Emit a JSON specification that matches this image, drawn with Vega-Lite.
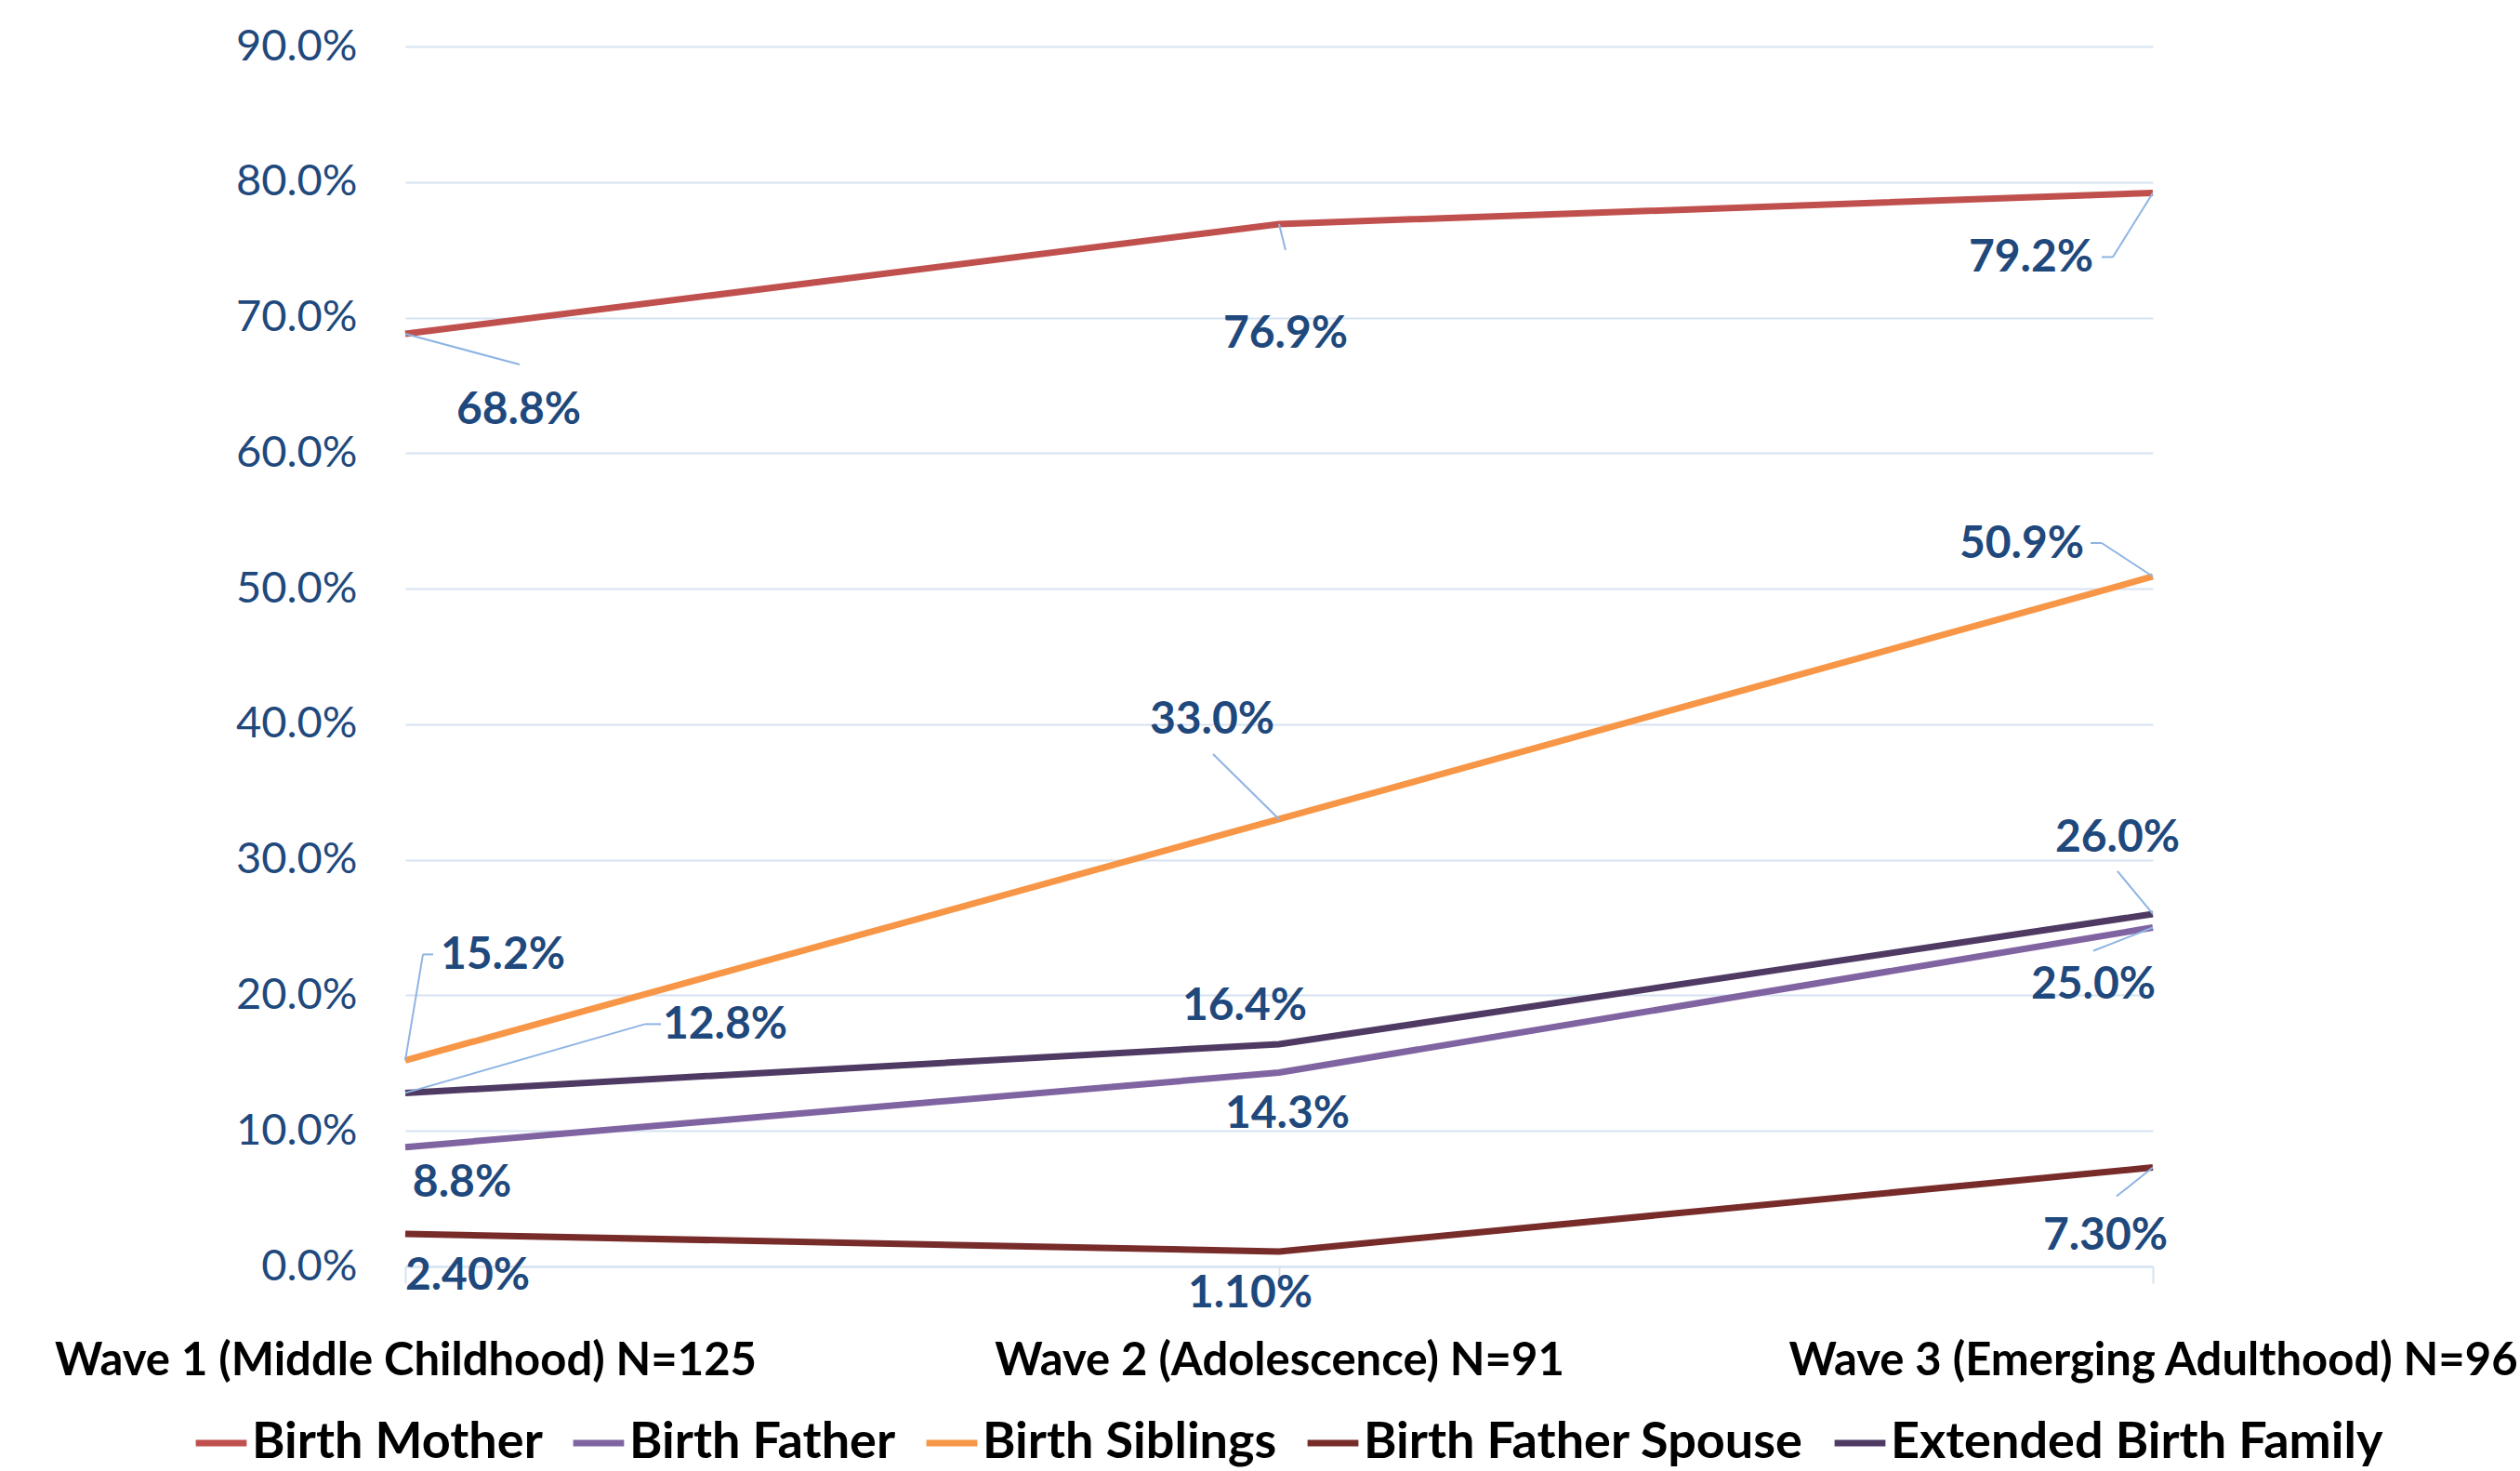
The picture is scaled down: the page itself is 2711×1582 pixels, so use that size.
{
  "$schema": "https://vega.github.io/schema/vega-lite/v6.json",
  "autosize": {"type": "none"},
  "width": 1880,
  "height": 1312,
  "padding": {"left": 436, "top": 50, "right": 395, "bottom": 220},
  "background": "white",
  "config": {
    "view": {"stroke": null},
    "font": "Lato"
  },
  "data": {"values": [
    {"id": "M1", "series": "Birth Mother", "wave": "Wave 1 (Middle Childhood) N=125", "value": 68.8, "label": "68.8%"},
    {"id": "M2", "series": "Birth Mother", "wave": "Wave 2 (Adolescence) N=91", "value": 76.9, "label": "76.9%"},
    {"id": "M3", "series": "Birth Mother", "wave": "Wave 3 (Emerging Adulthood) N=96", "value": 79.2, "label": "79.2%"},
    {"id": "F1", "series": "Birth Father", "wave": "Wave 1 (Middle Childhood) N=125", "value": 8.8, "label": "8.8%"},
    {"id": "F2", "series": "Birth Father", "wave": "Wave 2 (Adolescence) N=91", "value": 14.3, "label": "14.3%"},
    {"id": "F3", "series": "Birth Father", "wave": "Wave 3 (Emerging Adulthood) N=96", "value": 25.0, "label": "25.0%"},
    {"id": "S1", "series": "Birth Siblings", "wave": "Wave 1 (Middle Childhood) N=125", "value": 15.2, "label": "15.2%"},
    {"id": "S2", "series": "Birth Siblings", "wave": "Wave 2 (Adolescence) N=91", "value": 33.0, "label": "33.0%"},
    {"id": "S3", "series": "Birth Siblings", "wave": "Wave 3 (Emerging Adulthood) N=96", "value": 50.9, "label": "50.9%"},
    {"id": "P1", "series": "Birth Father Spouse", "wave": "Wave 1 (Middle Childhood) N=125", "value": 2.4, "label": "2.40%"},
    {"id": "P2", "series": "Birth Father Spouse", "wave": "Wave 2 (Adolescence) N=91", "value": 1.1, "label": "1.10%"},
    {"id": "P3", "series": "Birth Father Spouse", "wave": "Wave 3 (Emerging Adulthood) N=96", "value": 7.3, "label": "7.30%"},
    {"id": "E1", "series": "Extended Birth Family", "wave": "Wave 1 (Middle Childhood) N=125", "value": 12.8, "label": "12.8%"},
    {"id": "E2", "series": "Extended Birth Family", "wave": "Wave 2 (Adolescence) N=91", "value": 16.4, "label": "16.4%"},
    {"id": "E3", "series": "Extended Birth Family", "wave": "Wave 3 (Emerging Adulthood) N=96", "value": 26.0, "label": "26.0%"}
  ]},
  "encoding": {
    "x": {
      "field": "wave", "type": "ordinal",
      "sort": ["Wave 1 (Middle Childhood) N=125", "Wave 2 (Adolescence) N=91", "Wave 3 (Emerging Adulthood) N=96"],
      "scale": {"type": "point", "padding": 0},
      "axis": {
        "title": null, "labelAngle": 0, "grid": false,
        "domainColor": "#D6E2F1", "domainWidth": 2,
        "tickColor": "#D6E2F1", "tickWidth": 2, "tickSize": 18,
        "labelFont": "Lato", "labelFontWeight": "bold", "labelFontSize": 49,
        "labelColor": "#000000", "labelPadding": 59, "labelOverlap": false, "labelFlush": false, "labelLimit": 3000
      }
    },
    "y": {
      "field": "value", "type": "quantitative",
      "scale": {"domain": [0, 90], "nice": false},
      "axis": {
        "title": null, "values": [0, 10, 20, 30, 40, 50, 60, 70, 80, 90],
        "labelExpr": "format(datum.value, '.1f') + '%'",
        "domain": false, "ticks": false,
        "grid": true, "gridColor": "#D6E2F1", "gridWidth": 2,
        "labelFont": "Lato", "labelFontSize": 47, "labelColor": "#1F497D", "labelPadding": 52
      }
    }
  },
  "layer": [
    {
      "mark": {"type": "line", "strokeWidth": 7},
      "encoding": {
        "color": {
          "field": "series", "type": "nominal",
          "scale": {
            "domain": ["Birth Mother", "Birth Father", "Birth Siblings", "Birth Father Spouse", "Extended Birth Family"],
            "range": ["#C0504D", "#8064A2", "#F79646", "#772C2A", "#4F3A64"]
          },
          "legend": {
            "title": null, "orient": "none", "direction": "horizontal",
            "legendX": -229, "legendY": 1471,
            "symbolType": "stroke", "symbolSize": 3000, "symbolStrokeWidth": 7,
            "labelFont": "Lato", "labelFontWeight": "bold", "labelFontSize": 54, "labelColor": "#000000",
            "labelOffset": 2, "columnPadding": 18, "labelLimit": 1000
          }
        }
      }
    },
    {"transform": [{"filter": "datum.id=='M1'"}], "mark": {"type": "rule", "color": "#8EB4E3", "strokeWidth": 2, "x2Offset": 123, "y2Offset": 33}, "encoding": {"x2": {"field": "wave"}, "y2": {"field": "value"}}},
    {"transform": [{"filter": "datum.id=='M2'"}], "mark": {"type": "rule", "color": "#8EB4E3", "strokeWidth": 2, "x2Offset": 7, "y2Offset": 28}, "encoding": {"x2": {"field": "wave"}, "y2": {"field": "value"}}},
    {"transform": [{"filter": "datum.id=='M3'"}], "mark": {"type": "rule", "color": "#8EB4E3", "strokeWidth": 2, "x2Offset": -43, "y2Offset": 69}, "encoding": {"x2": {"field": "wave"}, "y2": {"field": "value"}}},
    {"transform": [{"filter": "datum.id=='M3'"}], "mark": {"type": "rule", "color": "#8EB4E3", "strokeWidth": 2, "xOffset": -43, "yOffset": 69, "x2Offset": -55, "y2Offset": 69}, "encoding": {"x2": {"field": "wave"}, "y2": {"field": "value"}}},
    {"transform": [{"filter": "datum.id=='S1'"}], "mark": {"type": "rule", "color": "#8EB4E3", "strokeWidth": 2, "x2Offset": 19, "y2Offset": -114}, "encoding": {"x2": {"field": "wave"}, "y2": {"field": "value"}}},
    {"transform": [{"filter": "datum.id=='S1'"}], "mark": {"type": "rule", "color": "#8EB4E3", "strokeWidth": 2, "xOffset": 19, "yOffset": -114, "x2Offset": 30, "y2Offset": -114}, "encoding": {"x2": {"field": "wave"}, "y2": {"field": "value"}}},
    {"transform": [{"filter": "datum.id=='S2'"}], "mark": {"type": "rule", "color": "#8EB4E3", "strokeWidth": 2, "x2Offset": -71, "y2Offset": -70}, "encoding": {"x2": {"field": "wave"}, "y2": {"field": "value"}}},
    {"transform": [{"filter": "datum.id=='S3'"}], "mark": {"type": "rule", "color": "#8EB4E3", "strokeWidth": 2, "x2Offset": -55, "y2Offset": -36}, "encoding": {"x2": {"field": "wave"}, "y2": {"field": "value"}}},
    {"transform": [{"filter": "datum.id=='S3'"}], "mark": {"type": "rule", "color": "#8EB4E3", "strokeWidth": 2, "xOffset": -55, "yOffset": -36, "x2Offset": -67, "y2Offset": -36}, "encoding": {"x2": {"field": "wave"}, "y2": {"field": "value"}}},
    {"transform": [{"filter": "datum.id=='E1'"}], "mark": {"type": "rule", "color": "#8EB4E3", "strokeWidth": 2, "x2Offset": 258, "y2Offset": -74}, "encoding": {"x2": {"field": "wave"}, "y2": {"field": "value"}}},
    {"transform": [{"filter": "datum.id=='E1'"}], "mark": {"type": "rule", "color": "#8EB4E3", "strokeWidth": 2, "xOffset": 258, "yOffset": -74, "x2Offset": 275, "y2Offset": -74}, "encoding": {"x2": {"field": "wave"}, "y2": {"field": "value"}}},
    {"transform": [{"filter": "datum.id=='E3'"}], "mark": {"type": "rule", "color": "#8EB4E3", "strokeWidth": 2, "x2Offset": -38, "y2Offset": -46}, "encoding": {"x2": {"field": "wave"}, "y2": {"field": "value"}}},
    {"transform": [{"filter": "datum.id=='F3'"}], "mark": {"type": "rule", "color": "#8EB4E3", "strokeWidth": 2, "x2Offset": -64, "y2Offset": 25}, "encoding": {"x2": {"field": "wave"}, "y2": {"field": "value"}}},
    {"transform": [{"filter": "datum.id=='P3'"}], "mark": {"type": "rule", "color": "#8EB4E3", "strokeWidth": 2, "x2Offset": -39, "y2Offset": 31}, "encoding": {"x2": {"field": "wave"}, "y2": {"field": "value"}}},
    {"transform": [{"filter": "datum.id=='M1'"}], "mark": {"type": "text", "font": "Lato", "fontWeight": "bold", "fontSize": 48, "color": "#1F497D", "align": "center", "baseline": "middle", "dx": 122, "dy": 83}, "encoding": {"text": {"field": "label"}}},
    {"transform": [{"filter": "datum.id=='M2'"}], "mark": {"type": "text", "font": "Lato", "fontWeight": "bold", "fontSize": 48, "color": "#1F497D", "align": "center", "baseline": "middle", "dx": 7, "dy": 119}, "encoding": {"text": {"field": "label"}}},
    {"transform": [{"filter": "datum.id=='M3'"}], "mark": {"type": "text", "font": "Lato", "fontWeight": "bold", "fontSize": 48, "color": "#1F497D", "align": "center", "baseline": "middle", "dx": -131, "dy": 71}, "encoding": {"text": {"field": "label"}}},
    {"transform": [{"filter": "datum.id=='S1'"}], "mark": {"type": "text", "font": "Lato", "fontWeight": "bold", "fontSize": 48, "color": "#1F497D", "align": "center", "baseline": "middle", "dx": 105, "dy": -112}, "encoding": {"text": {"field": "label"}}},
    {"transform": [{"filter": "datum.id=='S2'"}], "mark": {"type": "text", "font": "Lato", "fontWeight": "bold", "fontSize": 48, "color": "#1F497D", "align": "center", "baseline": "middle", "dx": -72, "dy": -106}, "encoding": {"text": {"field": "label"}}},
    {"transform": [{"filter": "datum.id=='S3'"}], "mark": {"type": "text", "font": "Lato", "fontWeight": "bold", "fontSize": 48, "color": "#1F497D", "align": "center", "baseline": "middle", "dx": -141, "dy": -34}, "encoding": {"text": {"field": "label"}}},
    {"transform": [{"filter": "datum.id=='E1'"}], "mark": {"type": "text", "font": "Lato", "fontWeight": "bold", "fontSize": 48, "color": "#1F497D", "align": "center", "baseline": "middle", "dx": 344, "dy": -72}, "encoding": {"text": {"field": "label"}}},
    {"transform": [{"filter": "datum.id=='E2'"}], "mark": {"type": "text", "font": "Lato", "fontWeight": "bold", "fontSize": 48, "color": "#1F497D", "align": "center", "baseline": "middle", "dx": -37, "dy": -40}, "encoding": {"text": {"field": "label"}}},
    {"transform": [{"filter": "datum.id=='E3'"}], "mark": {"type": "text", "font": "Lato", "fontWeight": "bold", "fontSize": 48, "color": "#1F497D", "align": "center", "baseline": "middle", "dx": -38, "dy": -81}, "encoding": {"text": {"field": "label"}}},
    {"transform": [{"filter": "datum.id=='F1'"}], "mark": {"type": "text", "font": "Lato", "fontWeight": "bold", "fontSize": 48, "color": "#1F497D", "align": "center", "baseline": "middle", "dx": 61, "dy": 39}, "encoding": {"text": {"field": "label"}}},
    {"transform": [{"filter": "datum.id=='F2'"}], "mark": {"type": "text", "font": "Lato", "fontWeight": "bold", "fontSize": 48, "color": "#1F497D", "align": "center", "baseline": "middle", "dx": 9, "dy": 45}, "encoding": {"text": {"field": "label"}}},
    {"transform": [{"filter": "datum.id=='F3'"}], "mark": {"type": "text", "font": "Lato", "fontWeight": "bold", "fontSize": 48, "color": "#1F497D", "align": "center", "baseline": "middle", "dx": -64, "dy": 62}, "encoding": {"text": {"field": "label"}}},
    {"transform": [{"filter": "datum.id=='P1'"}], "mark": {"type": "text", "font": "Lato", "fontWeight": "bold", "fontSize": 48, "color": "#1F497D", "align": "center", "baseline": "middle", "dx": 67, "dy": 46}, "encoding": {"text": {"field": "label"}}},
    {"transform": [{"filter": "datum.id=='P2'"}], "mark": {"type": "text", "font": "Lato", "fontWeight": "bold", "fontSize": 48, "color": "#1F497D", "align": "center", "baseline": "middle", "dx": -31, "dy": 46}, "encoding": {"text": {"field": "label"}}},
    {"transform": [{"filter": "datum.id=='P3'"}], "mark": {"type": "text", "font": "Lato", "fontWeight": "bold", "fontSize": 48, "color": "#1F497D", "align": "center", "baseline": "middle", "dx": -51, "dy": 74}, "encoding": {"text": {"field": "label"}}}
  ]
}
